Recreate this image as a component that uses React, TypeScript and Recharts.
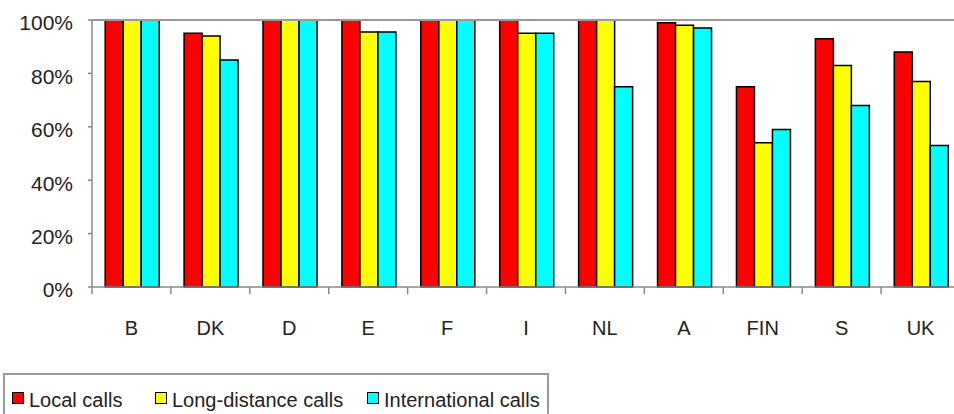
import { BarChart, Bar, XAxis, YAxis, ReferenceLine } from "recharts";

const countries = ["B", "DK", "D", "E", "F", "I", "NL", "A", "FIN", "S", "UK"];
const localCalls = [100, 95, 100, 100, 100, 100, 100, 99, 75, 93, 88];
const longDistanceCalls = [100, 94, 100, 95.5, 100, 95, 100, 98, 54, 83, 77];
const internationalCalls = [100, 85, 100, 95.5, 100, 95, 75, 97, 59, 68, 53];
const yTicks = [0, 20, 40, 60, 80, 100];

const series = [
  { key: "local", name: "Local calls", color: "#ff0000", values: localCalls },
  { key: "long", name: "Long-distance calls", color: "#ffff00", values: longDistanceCalls },
  { key: "intl", name: "International calls", color: "#00ffff", values: internationalCalls },
];

const data = countries.map((cc, i) => {
  const row: Record<string, any> = { cc };
  series.forEach(s => { row[s.key] = s.values[i]; });
  return row;
});

const FONT = "'Liberation Sans', Arial, Helvetica, sans-serif";
const TICK_SIZE = 7;
const TICK_MARGIN = 27;

// category label plus an Excel-style tick mark on the boundary between categories
function CountryTick(props: any) {
  const { x, y, payload, index, width } = props;
  const half = payload.offset || width / countries.length / 2;
  const axisY = y - TICK_SIZE - TICK_MARGIN;
  return (
    <g>
      <line x1={x - half} x2={x - half} y1={axisY} y2={axisY + TICK_SIZE} stroke="#888" strokeWidth={1.5} />
      {index === countries.length - 1 && (
        <line x1={x + half} x2={x + half} y1={axisY} y2={axisY + TICK_SIZE} stroke="#888" strokeWidth={1.5} />
      )}
      <text x={x} y={y} dy="0.71em" textAnchor="middle" fill="#222" fontSize={20} fontFamily={FONT}>
        {payload.value}
      </text>
    </g>
  );
}

export default function App() {
  return (
    <div style={{ position: "absolute", left: 0, top: 0, width: 954, height: 414, overflow: "hidden", background: "#fff" }}>
      <BarChart
        width={962}
        height={414}
        data={data}
        margin={{ top: 20, right: 2, bottom: 0, left: 0 }}
        barCategoryGap="16.7%"
        barGap={0}
      >
        <ReferenceLine y={100} stroke="#999" strokeWidth={2} ifOverflow="extendDomain" />
        <XAxis
          dataKey="cc"
          height={127}
          tickLine={false}
          tickSize={TICK_SIZE}
          tickMargin={TICK_MARGIN}
          interval={0}
          stroke="#888"
          strokeWidth={1.5}
          tick={<CountryTick />}
        />
        <YAxis
          width={92}
          domain={[0, 100]}
          ticks={yTicks}
          tickFormatter={(v: number) => `${v}%`}
          tickSize={4}
          tickMargin={15}
          stroke="#888"
          strokeWidth={1.5}
          tick={{ fill: "#222", fontSize: 21, fontFamily: FONT, dy: 3 }}
        />
        {series.map(s => (
          <Bar
            key={s.key}
            dataKey={s.key}
            name={s.name}
            fill={s.color}
            stroke="#000"
            strokeWidth={1.5}
            isAnimationActive={false}
          />
        ))}
      </BarChart>
      <div
        style={{
          position: "absolute",
          left: 3,
          top: 373,
          width: 546,
          height: 50,
          border: "2px solid #999",
          boxSizing: "border-box",
          fontFamily: FONT,
          fontSize: 20,
          color: "#222",
        }}
      >
        {series.map((s, i) => (
          <span key={s.key} style={{ position: "absolute", left: [7, 150, 362][i], top: 14, whiteSpace: "nowrap", lineHeight: "22px" }}>
            <span
              style={{
                display: "inline-block",
                width: 10,
                height: 10,
                background: s.color,
                border: "1.5px solid #000",
                marginRight: 5,
                verticalAlign: 3,
              }}
            />
            {s.name}
          </span>
        ))}
      </div>
    </div>
  );
}
